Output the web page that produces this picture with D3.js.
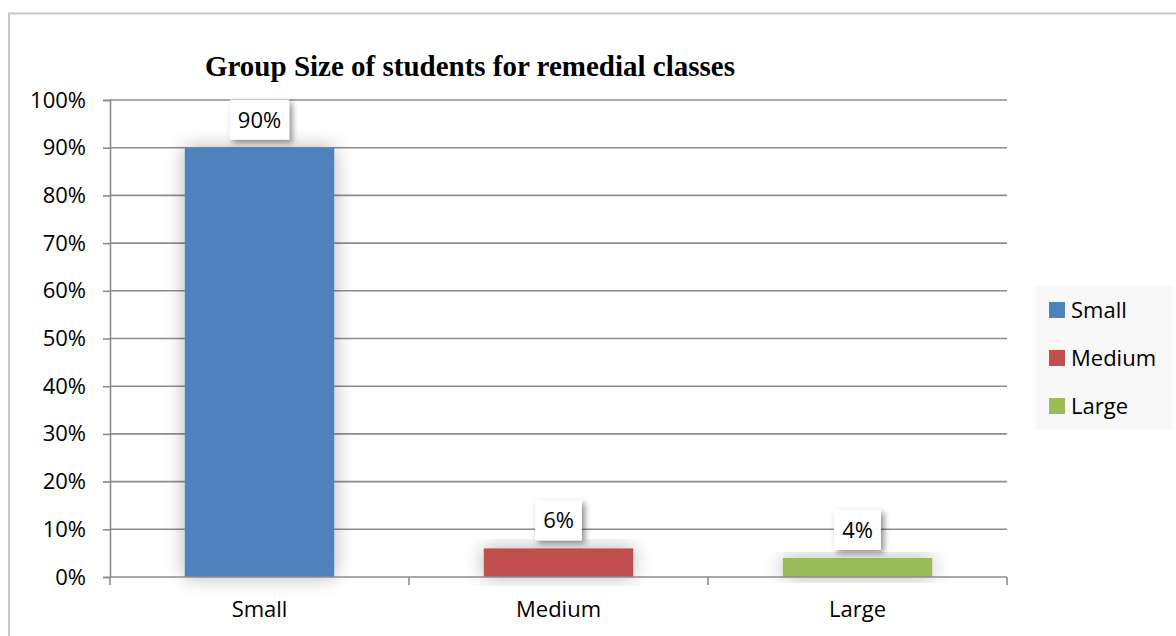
<!DOCTYPE html>
<html>
<head>
<meta charset="utf-8">
<script src="https://cdn.jsdelivr.net/npm/d3@7"></script>
<style>
  html, body { margin: 0; padding: 0; background: #fff; }
  svg { display: block; }
</style>
</head>
<body>
<svg id="chart" width="1176" height="636"></svg>
<script>
// Group size data
const categories = ["Small", "Medium", "Large"];
const values = [0.90, 0.06, 0.04];
const colors = ["#4f81bd", "#c0504d", "#9bbb59"];
const yTicks = [0, 0.1, 0.2, 0.3, 0.4, 0.5, 0.6, 0.7, 0.8, 0.9, 1.0];
const title = "Group Size of students for remedial classes";

const W = 1176, H = 636;
const plot = { left: 110, right: 1007, top: 100, bottom: 577 };
const font = "'Open Sans', Lato, sans-serif";
const fs = 22;
const gridColor = "#8c8c8c";

const svg = d3.select("#chart");

// Shadow filters for bars and data labels
const defs = svg.append("defs");
const barShadow = defs.append("filter").attr("id", "barShadow")
  .attr("x", "-30%").attr("y", "-30%").attr("width", "160%").attr("height", "160%");
barShadow.append("feGaussianBlur").attr("in", "SourceAlpha").attr("stdDeviation", 10).attr("result", "b");
barShadow.append("feOffset").attr("in", "b").attr("dx", 0).attr("dy", 0).attr("result", "o");
barShadow.append("feComponentTransfer").attr("in", "o").attr("result", "s")
  .append("feFuncA").attr("type", "linear").attr("slope", 0.3);
const m1 = barShadow.append("feMerge");
m1.append("feMergeNode").attr("in", "s");
m1.append("feMergeNode").attr("in", "SourceGraphic");

const lblShadow = defs.append("filter").attr("id", "lblShadow")
  .attr("x", "-30%").attr("y", "-30%").attr("width", "170%").attr("height", "170%");
lblShadow.append("feGaussianBlur").attr("in", "SourceAlpha").attr("stdDeviation", 3).attr("result", "b");
lblShadow.append("feOffset").attr("in", "b").attr("dx", 3).attr("dy", 3).attr("result", "o");
lblShadow.append("feComponentTransfer").attr("in", "o").attr("result", "s")
  .append("feFuncA").attr("type", "linear").attr("slope", 0.45);
const m2 = lblShadow.append("feMerge");
m2.append("feMergeNode").attr("in", "s");
m2.append("feMergeNode").attr("in", "SourceGraphic");

// Outer chart frame
svg.append("rect")
  .attr("x", 9).attr("y", 13.5)
  .attr("width", W + 20).attr("height", H + 20)
  .attr("fill", "#fff").attr("stroke", "#c8c8c8").attr("stroke-width", 2);

// Scales
const x = d3.scaleBand().domain(categories).range([plot.left, plot.right]).paddingInner(0).paddingOuter(0);
const y = d3.scaleLinear().domain([0, 1]).range([plot.bottom, plot.top]);
const barW = x.bandwidth() * 0.5;

// Gridlines
svg.append("g")
  .selectAll("line")
  .data(yTicks.filter(d => d > 0))
  .join("line")
  .attr("x1", plot.left).attr("x2", plot.right)
  .attr("y1", d => y(d)).attr("y2", d => y(d))
  .attr("stroke", gridColor).attr("stroke-width", 1.6);

// Y axis
const yAxis = svg.append("g")
  .attr("transform", `translate(${plot.left},0)`)
  .call(d3.axisLeft(y).tickValues(yTicks).tickFormat(d3.format(".0%")).tickSize(7).tickPadding(17));
yAxis.select(".domain").attr("stroke", gridColor).attr("stroke-width", 1.6);
yAxis.selectAll(".tick line").attr("stroke", gridColor).attr("stroke-width", 1.6);
yAxis.selectAll(".tick text")
  .attr("font-family", font).attr("font-size", fs).attr("fill", "#000");

// Bars
svg.append("g")
  .selectAll("rect")
  .data(categories)
  .join("rect")
  .attr("x", d => x(d) + (x.bandwidth() - barW) / 2)
  .attr("y", (d, i) => y(values[i]))
  .attr("width", barW)
  .attr("height", (d, i) => y(0) - y(values[i]))
  .attr("fill", (d, i) => colors[i])
  .attr("filter", "url(#barShadow)");

// X axis
const xAxis = svg.append("g")
  .attr("transform", `translate(0,${plot.bottom})`)
  .call(d3.axisBottom(x).tickSize(0).tickPadding(24));
xAxis.select(".domain").remove();
xAxis.selectAll(".tick text")
  .attr("font-family", font).attr("font-size", fs).attr("fill", "#000");
svg.append("line")
  .attr("x1", plot.left).attr("x2", plot.right)
  .attr("y1", plot.bottom).attr("y2", plot.bottom)
  .attr("stroke", gridColor).attr("stroke-width", 1.6);
// Category boundary ticks
const bounds = categories.map(c => x(c)).concat([plot.right]);
svg.append("g").selectAll("line")
  .data(bounds)
  .join("line")
  .attr("x1", d => d).attr("x2", d => d)
  .attr("y1", plot.bottom).attr("y2", plot.bottom + 8)
  .attr("stroke", gridColor).attr("stroke-width", 1.6);

// Data labels in white boxes above bars
const fmt = d3.format(".0%");
const labels = svg.append("g").selectAll("g")
  .data(categories)
  .join("g")
  .attr("transform", (d, i) => `translate(${x(d) + x.bandwidth() / 2},${y(values[i]) - 8})`);
labels.each(function (d, i) {
  const g = d3.select(this);
  const t = g.append("text")
    .attr("text-anchor", "middle")
    .attr("y", -12)
    .attr("font-family", font).attr("font-size", fs).attr("fill", "#000")
    .text(fmt(values[i]));
  const bw = t.node().getComputedTextLength() + 16;
  g.insert("rect", "text")
    .attr("x", -bw / 2).attr("y", -40)
    .attr("width", bw).attr("height", 40)
    .attr("fill", "#fff")
    .attr("filter", "url(#lblShadow)");
});

// Title
svg.append("text")
  .attr("x", 470).attr("y", 76)
  .attr("text-anchor", "middle")
  .attr("font-family", "'Liberation Serif', 'Times New Roman', serif")
  .attr("font-weight", "bold").attr("font-size", 29)
  .attr("fill", "#000")
  .text(title);

// Legend
const legend = svg.append("g");
legend.append("rect")
  .attr("x", 1035).attr("y", 285).attr("width", 138).attr("height", 144)
  .attr("fill", "#f8f8f8");
const items = legend.selectAll("g.item")
  .data(categories)
  .join("g").attr("class", "item")
  .attr("transform", (d, i) => `translate(1049,${302 + i * 48})`);
items.append("rect")
  .attr("width", 16).attr("height", 16)
  .attr("fill", (d, i) => colors[i]);
items.append("text")
  .attr("x", 22).attr("y", 16)
  .attr("font-family", font).attr("font-size", fs).attr("fill", "#000")
  .text(d => d);
</script>
</body>
</html>
